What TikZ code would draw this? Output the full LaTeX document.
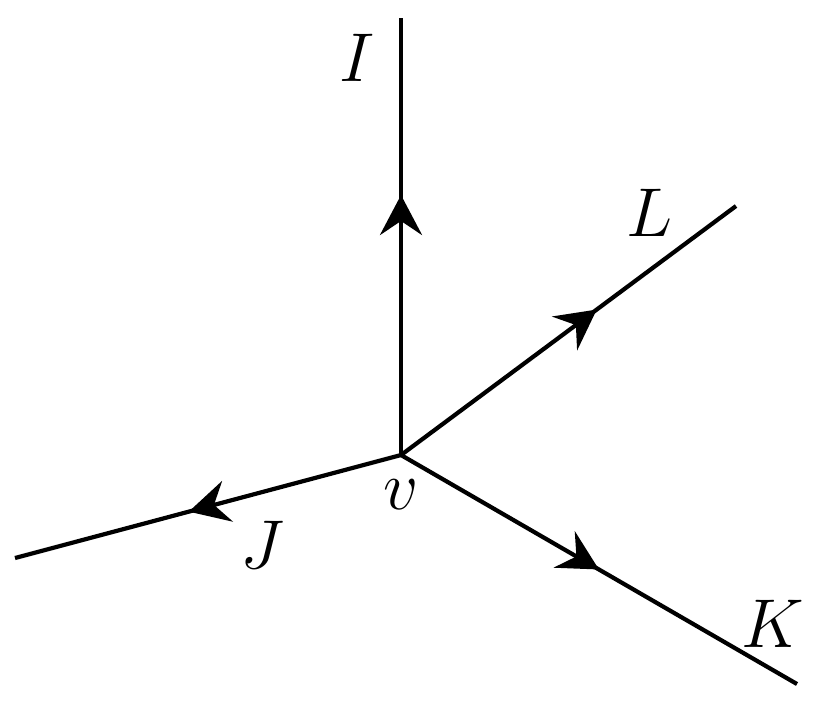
\documentclass[tikz,border=0pt]{standalone}
\usetikzlibrary{arrows.meta,decorations.markings}

\begin{document}
\begin{tikzpicture}[x=0.25pt,y=-0.25pt]
        \tikzstyle{edge}=[line width=1.05pt]
        \tikzstyle{midarrow}=[postaction={decorate},decoration={markings,
            mark=at position #1 with {\arrow{Stealth[length=10pt,width=10.5pt,inset=3.5pt]}}}]
        \tikzstyle{lbl}=[font=\fontsize{18}{21}\selectfont]
        \useasboundingbox (0,0) rectangle (831,700);
        \coordinate (v) at (401,455);
        \coordinate (i) at (401,18);
        \coordinate (l) at (736,206);
        \coordinate (j) at (15,558);
        \coordinate (k) at (797,684);
        \draw[edge,midarrow=0.595] (v) -- (i);
        \draw[edge,midarrow=0.585] (v) -- (l);
        \draw[edge,midarrow=0.55] (v) -- (j);
        \draw[edge,midarrow=0.5] (v) -- (k);
        \node[lbl] (labI) at (357,58) {$I$};
        \node[lbl] (labL) at (650,213) {$L$};
        \node[lbl] (labJ) at (262,545) {$J$};
        \node[lbl] (labK) at (773,624) {$K$};
        \node[lbl] (labv) at (401,495) {$v$};
\end{tikzpicture}
\end{document}
